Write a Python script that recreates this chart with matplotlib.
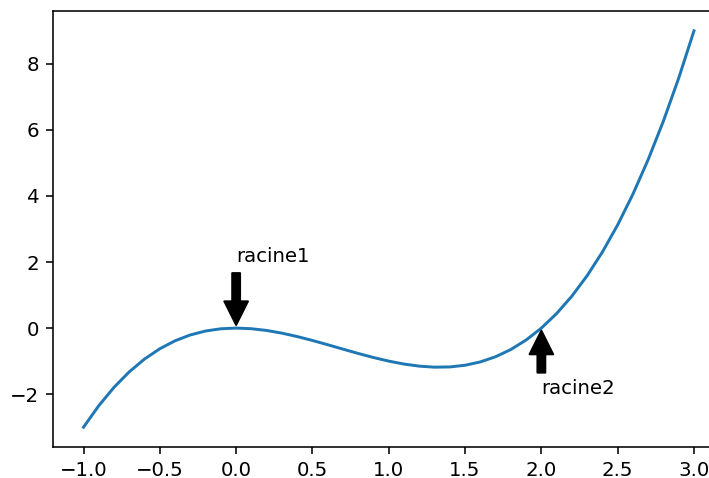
import numpy as np
import matplotlib
matplotlib.use("Agg")
import matplotlib.pyplot as plt

# valeurs (pas de 0.1)
x = np.round(np.arange(-1.0, 3.01, 0.1), 2)
y = [-3.0, -2.349, -1.792, -1.323, -0.936, -0.625, -0.384, -0.207, -0.088, -0.021,
     0.0, -0.019, -0.072, -0.153, -0.256, -0.375, -0.504, -0.637, -0.768, -0.891,
     -1.0, -1.089, -1.152, -1.183, -1.176, -1.125, -1.024, -0.867, -0.648, -0.361,
     0.0, 0.441, 0.968, 1.587, 2.304, 3.125, 4.056, 5.103, 6.272, 7.569, 9.0]

racines = [0, 2]
textes = ["racine1", "racine2"]
positions_texte = [(0, 2), (2, -2)]

fig = plt.figure(figsize=(709 / 142, 478 / 142), dpi=142)
ax = fig.add_axes([53 / 709, 31 / 478, 671.5 / 709, 436 / 478])
ax.plot(x, y)

for r, t, pos in zip(racines, textes, positions_texte):
    ax.annotate(t, xy=(r, 0), xytext=pos,
                arrowprops=dict(facecolor="black", shrink=0.05))

fig.savefig("out.png", dpi=142)
